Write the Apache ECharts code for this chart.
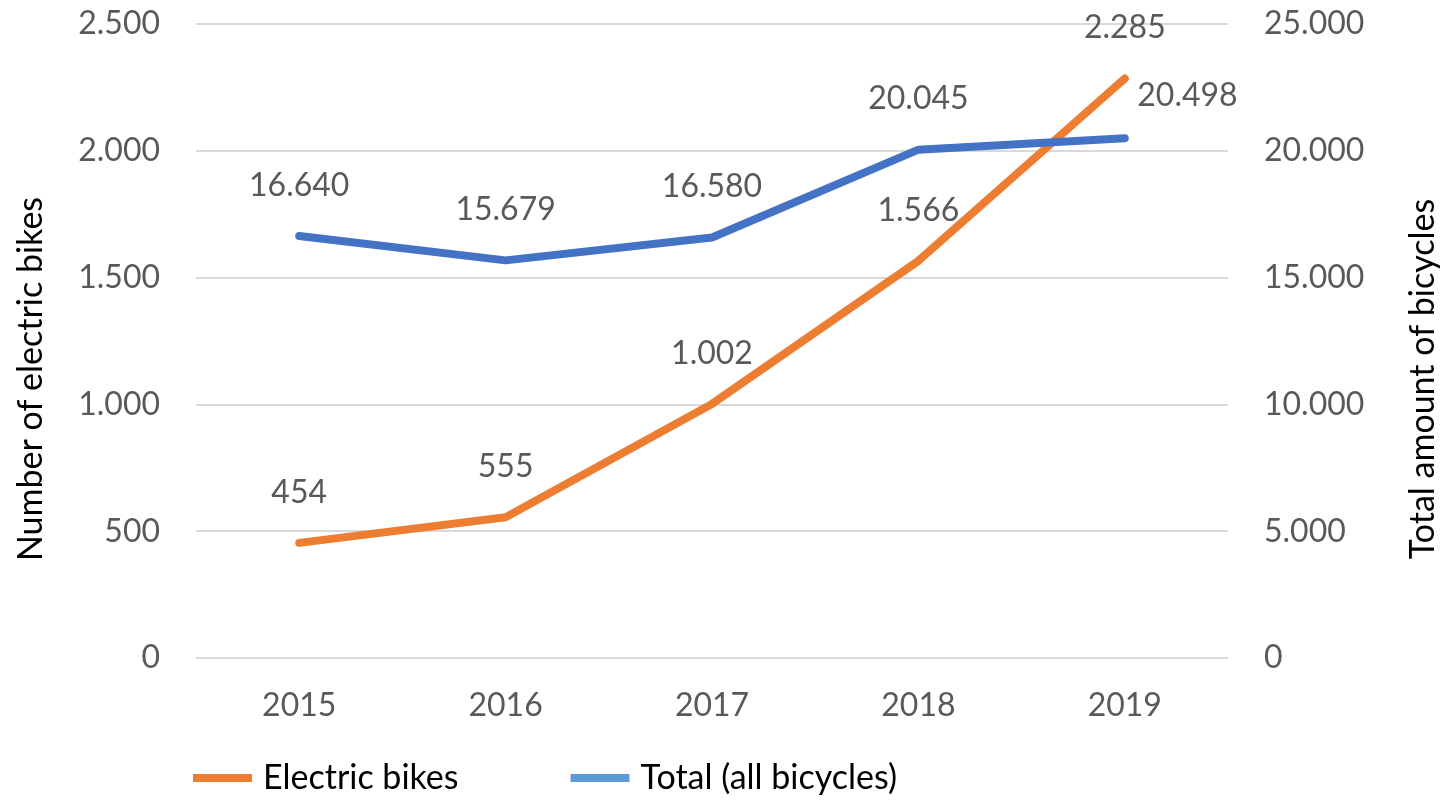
<!DOCTYPE html>
<html>
<head>
<meta charset="utf-8">
<script src="https://cdn.jsdelivr.net/npm/echarts@6/dist/echarts.min.js"></script>
<style>
html,body{margin:0;padding:0;background:#fff;}
#chart{width:1441px;height:800px;}
</style>
</head>
<body>
<div id="chart"></div>
<script>
const years = ['2015', '2016', '2017', '2018', '2019'];
const electricBikes = [454, 555, 1002, 1566, 2285];
const totalBicycles = [16640, 15679, 16580, 20045, 20498];
const seriesNames = ['Electric bikes', 'Total (all bicycles)'];
const leftAxisTitle = 'Number of electric bikes';
const rightAxisTitle = 'Total amount of bicycles';

const FONT = 'Lato';
const GREY = '#595959';
function fmt(v) { return String(v).replace(/\B(?=(\d{3})+(?!\d))/g, '.'); }

const chart = echarts.init(document.getElementById('chart'), null, {renderer: 'canvas'});

const totalData = totalBicycles.map((v, i) => {
  if (i === totalBicycles.length - 1) {
    return {value: v, label: {position: 'right', distance: 12, offset: [0, -42]}};
  }
  return v;
});

chart.setOption({
  animation: false,
  backgroundColor: '#fff',
  textStyle: {fontFamily: FONT},
  grid: {left: 196, right: 213, top: 24, bottom: 142, containLabel: false, outerBoundsMode: 'none'},
  legend: {
    left: 188, top: 756,
    icon: 'rect', itemWidth: 59, itemHeight: 8, itemGap: 112,
    textStyle: {fontFamily: FONT, fontSize: 34, color: '#000', padding: [0, 0, 0, 6]},
    data: [
      {name: seriesNames[0], itemStyle: {color: '#ED7D31'}},
      {name: seriesNames[1], itemStyle: {color: '#5B9BD5'}}
    ]
  },
  xAxis: {
    type: 'category',
    data: years,
    boundaryGap: true,
    axisLine: {show: false},
    axisTick: {show: false},
    axisLabel: {color: GREY, fontSize: 32, fontFamily: FONT, margin: 32}
  },
  yAxis: [
    {
      type: 'value', min: 0, max: 2500, interval: 500,
      name: leftAxisTitle, nameLocation: 'middle', nameGap: 148, nameRotate: 90,
      nameTextStyle: {color: '#000', fontSize: 34, fontFamily: FONT, padding: [0, 76, 0, 0]},
      axisLine: {show: false}, axisTick: {show: false},
      axisLabel: {color: GREY, fontSize: 32, fontFamily: FONT, margin: 36, formatter: fmt},
      splitLine: {lineStyle: {color: '#d9d9d9', width: 2}}
    },
    {
      type: 'value', min: 0, max: 25000, interval: 5000,
      name: rightAxisTitle, nameLocation: 'middle', nameGap: 178, nameRotate: 90,
      nameTextStyle: {color: '#000', fontSize: 34, fontFamily: FONT, padding: [0, 76, 0, 0]},
      axisLine: {show: false}, axisTick: {show: false},
      axisLabel: {color: GREY, fontSize: 32, fontFamily: FONT, margin: 36, formatter: fmt},
      splitLine: {show: false}
    }
  ],
  series: [
    {
      name: seriesNames[0], type: 'line', yAxisIndex: 0,
      data: electricBikes,
      symbol: 'circle', symbolSize: 1, showSymbol: true,
      lineStyle: {color: '#ED7D31', width: 8, cap: 'round', join: 'round'},
      itemStyle: {color: '#ED7D31'},
      label: {show: true, position: 'top', distance: 34, color: GREY, fontSize: 32, fontFamily: FONT,
        formatter: p => fmt(p.value)}
    },
    {
      name: seriesNames[1], type: 'line', yAxisIndex: 1,
      data: totalData,
      symbol: 'circle', symbolSize: 1, showSymbol: true,
      lineStyle: {color: '#4472C4', width: 8, cap: 'round', join: 'round'},
      itemStyle: {color: '#4472C4'},
      label: {show: true, position: 'top', distance: 34, color: GREY, fontSize: 32, fontFamily: FONT,
        formatter: p => fmt(p.value)}
    }
  ]
});
</script>
</body>
</html>
